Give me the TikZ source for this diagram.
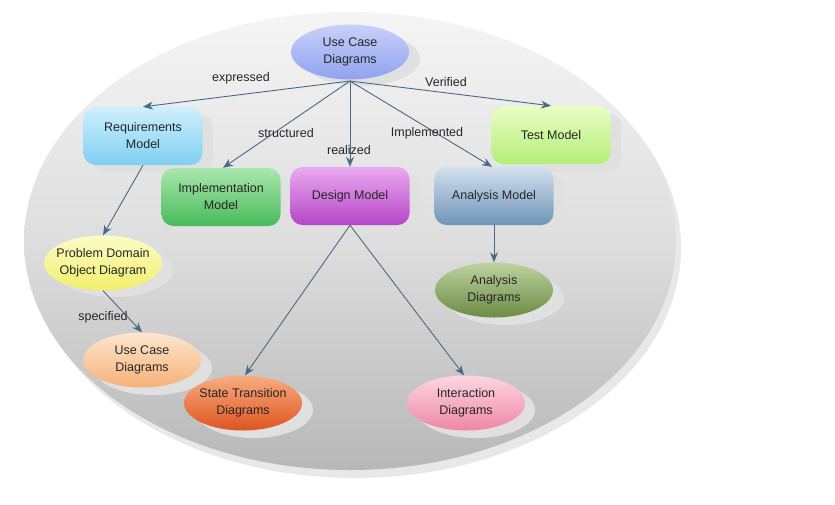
\documentclass[tikz,border=0pt]{standalone}
\usepackage{fontspec}
\setmainfont{Liberation Sans}
\usetikzlibrary{arrows.meta,shapes.geometric}
\definecolor{edgec}{HTML}{4A6985}
\definecolor{ucT}{HTML}{C8D1FA}\definecolor{ucB}{HTML}{8FA2EE}
\definecolor{reqT}{HTML}{CDF0FD}\definecolor{reqB}{HTML}{80CFF2}
\definecolor{implT}{HTML}{A9E7AC}\definecolor{implB}{HTML}{48BB5A}
\definecolor{desT}{HTML}{EAAAF0}\definecolor{desB}{HTML}{B546C6}
\definecolor{anmT}{HTML}{D3E0EE}\definecolor{anmB}{HTML}{6F94B8}
\definecolor{testT}{HTML}{E9FDC4}\definecolor{testB}{HTML}{B3EF78}
\definecolor{pdT}{HTML}{FCFCC8}\definecolor{pdB}{HTML}{F1EF6A}
\definecolor{ucbT}{HTML}{FDE6CF}\definecolor{ucbB}{HTML}{F5B178}
\definecolor{stT}{HTML}{F8AD80}\definecolor{stB}{HTML}{DE5420}
\definecolor{inT}{HTML}{FCD6E0}\definecolor{inB}{HTML}{EF86A6}
\definecolor{adT}{HTML}{BDD3A0}\definecolor{adB}{HTML}{6B8B45}
\tikzset{
  x=1pt,y=-1pt,
  lbl/.style={font=\fontsize{12.5}{17}\selectfont, text=black!85, align=center},
  rbox/.style={lbl, rounded corners=12pt, minimum width=119pt, minimum height=58pt, inner sep=0pt},
  ell/.style={lbl, ellipse, minimum width=118pt, minimum height=55pt, inner sep=-7pt},
  shad/.style={fill=black!12, draw=none},
  conn/.style={draw=edgec, line width=0.9pt, -{Stealth[length=10pt,width=8pt]}},
  elab/.style={font=\fontsize{12.5}{15}\selectfont, text=black!85, inner sep=1pt},
}
\begin{document}
\begin{tikzpicture}
\useasboundingbox (0,0) rectangle (835,504);
\fill[white] (0,0) rectangle (835,504);
% big background ellipse with shadow
\fill[black!9] (355,248) ellipse [x radius=326, y radius=230];
\shade[top color=black!4, bottom color=black!28, middle color=black!13] (350,241) ellipse [x radius=326, y radius=229];

% shadows
\fill[shad, rounded corners=12pt] (93,115) rectangle (213,173);
\fill[shad, rounded corners=12pt] (172,176) rectangle (290,234);
\fill[shad, rounded corners=12pt] (301,175) rectangle (420,233);
\fill[shad, rounded corners=12pt] (445,175) rectangle (563,233);
\fill[shad, rounded corners=12pt] (501,114) rectangle (621,172);
\fill[shad] (361,59) ellipse [x radius=59, y radius=27];
\fill[shad] (114,270) ellipse [x radius=59, y radius=27];
\fill[shad] (153,368) ellipse [x radius=59, y radius=27];
\fill[shad] (254,410) ellipse [x radius=59, y radius=28];
\fill[shad] (476,410) ellipse [x radius=59, y radius=28];
\fill[shad] (505,298) ellipse [x radius=59, y radius=27];

% nodes
\node[ell, top color=ucT, bottom color=ucB] (uc) at (350,52) {Use Case\\Diagrams};
\node[rbox, top color=reqT, bottom color=reqB] (req) at (143,136) {Requirements\\Model};
\node[rbox, top color=implT, bottom color=implB] (impl) at (221,197) {Implementation\\Model};
\node[rbox, top color=desT, bottom color=desB] (des) at (350,196) {Design Model};
\node[rbox, top color=anmT, bottom color=anmB] (anm) at (494,196) {Analysis Model};
\node[rbox, top color=testT, bottom color=testB] (test) at (551,135) {Test Model};
\node[ell, top color=pdT, bottom color=pdB] (pdod) at (103,263) {Problem Domain\\Object Diagram};
\node[ell, top color=ucbT, bottom color=ucbB] (uc2) at (142,360) {Use Case\\Diagrams};
\node[ell, top color=stT, bottom color=stB] (st) at (243,403) {State Transition\\Diagrams};
\node[ell, top color=inT, bottom color=inB] (int) at (466,403) {Interaction\\Diagrams};
\node[ell, top color=adT, bottom color=adB] (and) at (494,290) {Analysis\\Diagrams};

% connectors
\coordinate (ucb) at (350,81);
\draw[conn] (ucb) -- (req.north);
\draw[conn] (ucb) -- ([xshift=2pt]impl.north);
\draw[conn] (ucb) -- (des.north);
\draw[conn] (ucb) -- ([xshift=-2pt]anm.north);
\draw[conn] (ucb) -- (test.north);
\draw[conn] (req.south) -- (pdod.north);
\draw[conn] (pdod.south) -- (uc2.north);
\draw[conn] (des.south) -- ([xshift=2pt]st.north);
\draw[conn] (des.south) -- ([xshift=-2pt]int.north);
\draw[conn] (anm.south) -- (and.north);

% labels
\node[elab] (l1) at (241,78) {expressed};
\node[elab] (l2) at (286,133) {structured};
\node[elab] (l3) at (349,150) {realized};
\node[elab] (l4) at (427,133) {Implemented};
\node[elab] (l5) at (446,82) {Verified};
\node[elab] (l6) at (103,317) {specified};
\end{tikzpicture}
\end{document}
